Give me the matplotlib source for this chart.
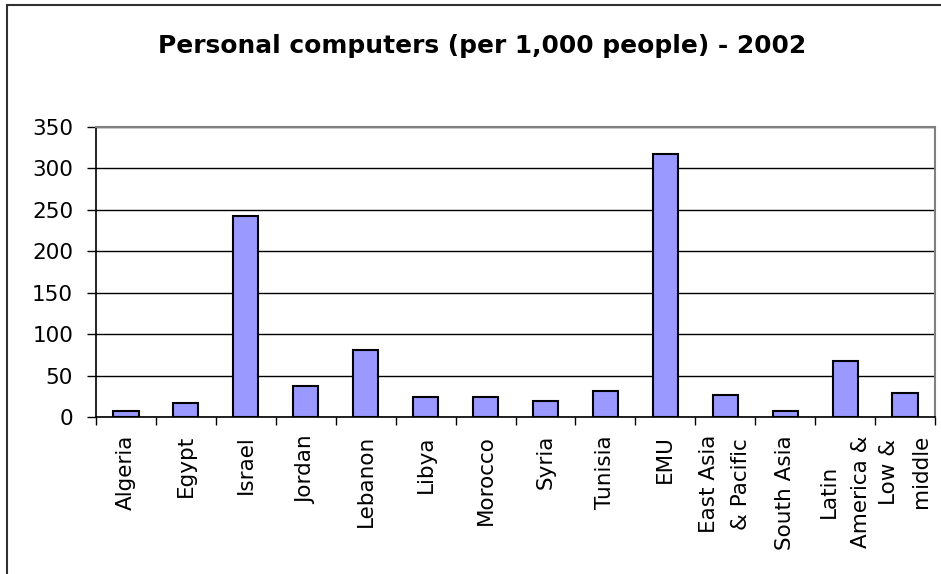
import matplotlib
matplotlib.use("Agg")
import matplotlib.pyplot as plt
import numpy as np
from matplotlib.patches import Rectangle

# data
countries = ["Algeria", "Egypt", "Israel", "Jordan", "Lebanon", "Libya", "Morocco",
             "Syria", "Tunisia", "EMU", "East Asia\n& Pacific", "South Asia",
             "Latin\nAmerica &", "Low &\nmiddle"]
pcs_per_1000 = [7, 17, 242, 38, 81, 24, 24, 19, 31, 317, 26, 7, 67, 29]
yticks = [0, 50, 100, 150, 200, 250, 300, 350]

W, H = 941, 574
fig = plt.figure(figsize=(W / 100, H / 100), dpi=100)
ax = fig.add_axes([96 / W, 1 - 417 / H, (935 - 96) / W, 290 / H])

x = np.arange(len(countries))
ax.bar(x, pcs_per_1000, width=0.42, color="#9999FF", edgecolor="black",
       linewidth=1.5, zorder=3)

ax.set_xlim(-0.5, len(countries) - 0.5)
ax.set_ylim(0, 350)
ax.set_yticks(yticks)
ax.set_yticklabels([str(v) for v in yticks])
ax.set_xticks(x)
ax.set_xticklabels(countries, rotation=90, ha="center", va="top",
                   multialignment="center", linespacing=1.75)
ax.set_xticks(np.arange(len(countries) + 1) - 0.5, minor=True)

ax.tick_params(axis="x", which="major", length=0, pad=13, labelsize=15.5)
ax.tick_params(axis="x", which="minor", length=6, width=1, color="black")
ax.tick_params(axis="y", length=6.5, width=1, pad=10, labelsize=15.5)

ax.yaxis.grid(True, color="black", linewidth=1)
ax.set_axisbelow(True)

for side in ["top", "right"]:
    ax.spines[side].set_color("#808080")
    ax.spines[side].set_linewidth(1.5)
for side in ["left", "bottom"]:
    ax.spines[side].set_color("black")
    ax.spines[side].set_linewidth(1.2)

fig.text(482 / W, 1 - 46 / H, "Personal computers (per 1,000 people) - 2002",
         ha="center", va="center", fontsize=17.9, fontweight="bold")

# outer chart frame (only left and top edges are inside the image)
fig.add_artist(Rectangle((7 / W, -0.2), 1.5, 1.2 - 5 / H, transform=fig.transFigure,
                         fill=False, edgecolor="#303030", linewidth=1.5, clip_on=False))

fig.savefig("out.png", dpi=100)
